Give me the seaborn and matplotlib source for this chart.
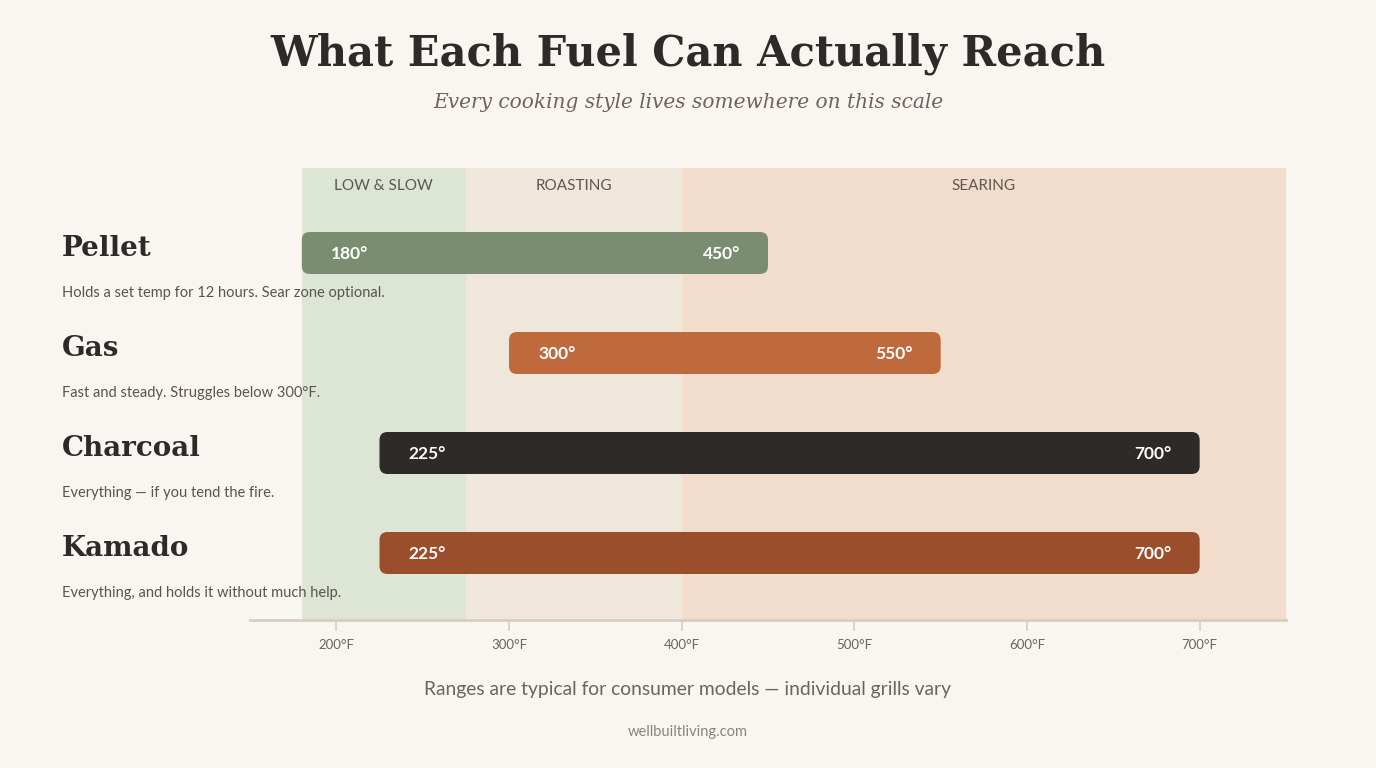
import numpy as np
import pandas as pd
import seaborn as sns
import matplotlib.pyplot as plt
from matplotlib.patches import FancyBboxPatch
from matplotlib.transforms import blended_transform_factory

# data
fuels = ["Pellet", "Gas", "Charcoal", "Kamado"]
low_temps = [180, 300, 225, 225]
high_temps = [450, 550, 700, 700]
notes = [
    "Holds a set temp for 12 hours. Sear zone optional.",
    "Fast and steady. Struggles below 300°F.",
    "Everything — if you tend the fire.",
    "Everything, and holds it without much help.",
]
bar_colors = ["#7b8d71", "#bf6a3c", "#2e2a27", "#9a4e2b"]

zone_names = ["LOW & SLOW", "ROASTING", "SEARING"]
zone_starts = [180, 275, 400]
zone_ends = [275, 400, 750]
zone_colors = ["#dde5d5", "#efe6dc", "#f2dccb"]

tick_values = [200, 300, 400, 500, 600, 700]

BG = "#f9f6f1"
INK = "#2e2a27"
GREY = "#6b6460"

sns.set_theme(style="white")
plt.rcParams["font.family"] = ["Lato", "DejaVu Sans"]

W, H = 1376, 768
fig = plt.figure(figsize=(W / 100, H / 100), dpi=100, facecolor=BG)

# axes spans px 250..1286 horizontally, 168..620 vertically
ax = fig.add_axes([250 / W, (H - 620) / H, 1036 / W, 452 / H])
ax.set_facecolor(BG)
ax.set_xlim(150, 750)
ax.set_ylim(620, 168)  # y in pixel-like units, top to bottom

for name, x0, x1, c in zip(zone_names, zone_starts, zone_ends, zone_colors):
    ax.axvspan(x0, x1, color=c, lw=0, zorder=0)
    ax.text((x0 + x1) / 2, 186, name, ha="center", va="center",
            fontsize=11, color="#5e5752", zorder=2)

row_y = [253, 353, 453, 553]
bar_h = 42
# corner rounding: x units per px vs y units per px
x_per_px = 600 / 1036
aspect = 1 / x_per_px
r = 8 * x_per_px

df = pd.DataFrame({"fuel": fuels, "low": low_temps, "high": high_temps,
                   "note": notes, "color": bar_colors, "y": row_y})

for _, row in df.iterrows():
    patch = FancyBboxPatch((row["low"], row["y"] - bar_h / 2),
                           row["high"] - row["low"], bar_h,
                           boxstyle=f"round,pad=0,rounding_size={r}",
                           mutation_aspect=aspect,
                           facecolor=row["color"], edgecolor="none", zorder=3)
    ax.add_patch(patch)
    ax.text(row["low"] + 29 * x_per_px, row["y"] + 1, f"{row['low']}°",
            ha="left", va="center", color="white", fontsize=12.5,
            fontweight="bold", zorder=4)
    ax.text(row["high"] - 28 * x_per_px, row["y"] + 1, f"{row['high']}°",
            ha="right", va="center", color="white", fontsize=12.5,
            fontweight="bold", zorder=4)

# labels on the left
tr = blended_transform_factory(fig.transFigure, ax.transData)
for _, row in df.iterrows():
    ax.text(62 / W, row["y"] - 4, row["fuel"], transform=tr, ha="left",
            va="center", fontsize=20, fontweight="bold",
            family=["DejaVu Serif"], color=INK, clip_on=False)
    ax.text(62 / W, row["y"] + 40, row["note"], transform=tr, ha="left",
            va="center", fontsize=10.5, color="#5a5450", clip_on=False)

# axis styling
for s in ["top", "right", "left"]:
    ax.spines[s].set_visible(False)
ax.spines["bottom"].set_color("#d8cdc1")
ax.spines["bottom"].set_linewidth(2)
ax.set_yticks([])
ax.set_xticks(tick_values)
ax.set_xticklabels([f"{t}°F" for t in tick_values])
ax.tick_params(axis="x", length=8, width=1.2, color="#d8cdc1",
               labelsize=9.5, labelcolor=GREY, pad=6, bottom=True)

# titles and notes
fig.text(688 / W, 1 - 54 / H, "What Each Fuel Can Actually Reach",
         ha="center", va="center", fontsize=30, fontweight="bold",
         family=["DejaVu Serif"], color=INK)
fig.text(688 / W, 1 - 102 / H, "Every cooking style lives somewhere on this scale",
         ha="center", va="center", fontsize=14.5, style="italic",
         family=["DejaVu Serif"], color=GREY)
fig.text(688 / W, 1 - 689 / H,
         "Ranges are typical for consumer models — individual grills vary",
         ha="center", va="center", fontsize=13.9, color=GREY)
fig.text(688 / W, 1 - 732 / H, "wellbuiltliving.com", ha="center",
         va="center", fontsize=10.5, color="#8a8480")

fig.savefig("out.png", dpi=100, facecolor=BG)
